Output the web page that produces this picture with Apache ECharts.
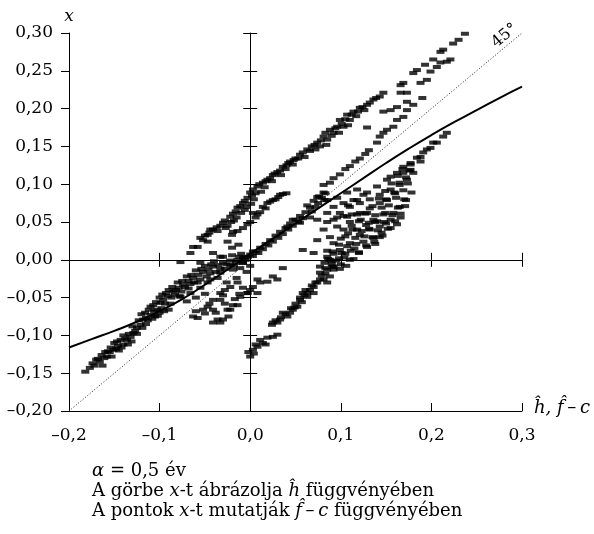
<!DOCTYPE html>
<html>
<head>
<meta charset="utf-8">
<script src="https://cdn.jsdelivr.net/npm/echarts@6/dist/echarts.min.js"></script>
<style>
  html, body { margin: 0; padding: 0; background: #fff; }
  #chart { width: 594px; height: 534px; }
</style>
</head>
<body>
<div id="chart"></div>
<script>
// tengelyek
const xTicks = [-0.2, -0.1, 0.0, 0.1, 0.2, 0.3];
const yTicks = [-0.20, -0.15, -0.10, -0.05, 0.00, 0.05, 0.10, 0.15, 0.20, 0.25, 0.30];

// a görbe: x a h^ függvényében
const curveH = [-0.200, -0.175, -0.150, -0.125, -0.100, -0.075, -0.050, -0.025, 0.000, 0.025, 0.050, 0.075, 0.100, 0.125, 0.150, 0.175, 0.200, 0.225, 0.250, 0.275, 0.300];
const curveX = [-0.116, -0.105, -0.094, -0.082, -0.068, -0.052, -0.033, -0.013, 0.008, 0.028, 0.048, 0.068, 0.088, 0.108, 0.128, 0.147, 0.165, 0.182, 0.198, 0.214, 0.229];

// 45 fokos egyenes
const diagonal = [-0.2, 0.3];

// pontok: x az f^-c függvényében
const bandLowerLeft = [
  [-0.182,-0.148],
  [-0.177,-0.143],[-0.172,-0.140],[-0.166,-0.135],[-0.161,-0.130],[-0.158,-0.128],[-0.155,-0.122],
  [-0.151,-0.119],[-0.146,-0.114],[-0.140,-0.112],[-0.143,-0.106],[-0.136,-0.106],[-0.132,-0.102],
  [-0.129,-0.097],[-0.125,-0.090],[-0.121,-0.086],[-0.118,-0.079],[-0.115,-0.077],[-0.110,-0.073],
  [-0.107,-0.060],[-0.103,-0.066],[-0.099,-0.057],[-0.096,-0.053],[-0.091,-0.048],[-0.085,-0.042],
  [-0.079,-0.037],[-0.074,-0.033],[-0.068,-0.028],[-0.063,-0.024],[-0.057,-0.020],[-0.052,-0.016],
  [-0.046,-0.013],[-0.041,-0.009],[-0.035,-0.007],[-0.030,-0.004],[-0.022,-0.001],[-0.014,0.000],
  [-0.008,0.003],[-0.003,0.004],[0.003,0.011],
  [-0.170,-0.132],[-0.160,-0.122],[-0.150,-0.110],[-0.140,-0.100],[-0.130,-0.088],[-0.120,-0.072],
  [-0.110,-0.062],[-0.100,-0.050],[-0.090,-0.040],[-0.080,-0.030],[-0.070,-0.022],[-0.060,-0.014],
  [-0.050,-0.008],[-0.040,-0.002],[-0.030,0.004],[-0.020,0.006],[-0.010,0.008],
  [-0.163,-0.140],[-0.153,-0.128],[-0.145,-0.120],[-0.135,-0.112],[-0.125,-0.098],[-0.115,-0.085],
  [-0.105,-0.075],[-0.095,-0.068],[-0.090,-0.066],[-0.100,-0.070],[-0.088,-0.058],[-0.078,-0.048],
  [-0.068,-0.038],[-0.058,-0.030],[-0.048,-0.022],[-0.038,-0.016],[-0.028,-0.012],[-0.018,-0.008],
  [-0.008,-0.004],
  [-0.174,-0.137],[-0.168,-0.131],[-0.164,-0.126],[-0.157,-0.121],[-0.154,-0.116],[-0.148,-0.118],
  [-0.147,-0.108],[-0.142,-0.116],[-0.138,-0.104],[-0.134,-0.098],[-0.131,-0.108],[-0.127,-0.094],
  [-0.123,-0.080],[-0.119,-0.090],[-0.116,-0.070],[-0.113,-0.080],[-0.112,-0.066],[-0.108,-0.078],
  [-0.106,-0.068],[-0.104,-0.056],[-0.102,-0.074],[-0.098,-0.064],[-0.097,-0.046],[-0.094,-0.058],
  [-0.093,-0.044],[-0.087,-0.050],[-0.086,-0.036],[-0.083,-0.046],[-0.082,-0.040],[-0.076,-0.042],
  [-0.075,-0.028],[-0.072,-0.036],[-0.066,-0.032],[-0.065,-0.020],[-0.062,-0.030],[-0.055,-0.026],
  [-0.054,-0.012],[-0.044,-0.018],[-0.043,-0.006],[-0.033,-0.012],[-0.026,-0.006],[-0.016,-0.004],
  [-0.012,0.004],[-0.005,0.000]
];
const bandNearDiagonalLeft = [
  [-0.077,-0.049],[-0.066,-0.044],[-0.055,-0.037],[-0.044,-0.026],[-0.033,-0.017],[-0.022,-0.007],
  [-0.047,-0.030],[-0.036,-0.024],[-0.019,-0.013],[-0.008,-0.004],[-0.011,-0.011],[-0.026,-0.030],
  [-0.015,-0.024],[-0.004,-0.016],[0.000,-0.008],
  [-0.063,-0.075],[-0.052,-0.066],[-0.041,-0.053],[-0.033,-0.044],[-0.022,-0.036],[-0.036,-0.079],
  [-0.025,-0.066],[-0.019,-0.060],[-0.047,-0.062],[-0.041,-0.066],[-0.058,-0.077],[-0.030,-0.079],
  [-0.033,-0.053],[-0.014,-0.060],[-0.022,-0.066],[-0.003,-0.044],[-0.008,-0.037],[-0.041,-0.083],
  [-0.033,-0.083],[-0.070,-0.055],[-0.060,-0.050],[-0.028,-0.040],[-0.014,-0.030],
  [-0.060,-0.068],[-0.050,-0.071],[-0.045,-0.058],[-0.038,-0.070],[-0.028,-0.058],[-0.030,-0.047],
  [-0.017,-0.052],[-0.012,-0.045],[-0.024,-0.075],[-0.050,-0.045]
];
const scatterLeftAbove = [
  [-0.077,-0.003],[-0.066,0.009],[-0.063,0.017],[-0.058,0.017],[-0.052,0.026],[-0.047,0.024],
  [-0.047,0.033],[-0.044,0.040],[-0.041,0.009],[-0.055,-0.004],[-0.025,0.024],[-0.019,0.037],
  [-0.033,0.004],[-0.020,0.016],[-0.013,0.020]
];
const bandUpper = [
  [-0.055,0.029],[-0.041,0.040],[-0.033,0.045],[-0.030,0.049],[-0.025,0.045],[-0.022,0.057],
  [-0.019,0.061],[-0.018,0.052],[-0.014,0.069],[-0.011,0.071],[-0.010,0.062],[-0.008,0.075],
  [-0.004,0.070],[-0.003,0.082],[0.000,0.089],[0.003,0.093],[0.004,0.080],[0.008,0.097],
  [0.012,0.090],[0.014,0.102],[0.019,0.106],[0.022,0.108],[0.025,0.112],[0.030,0.116],
  [0.036,0.123],[0.040,0.125],[0.044,0.130],[0.050,0.134],[0.055,0.139],[0.063,0.146],
  [0.068,0.150],[0.074,0.155],[0.078,0.158],[0.081,0.163],[0.085,0.159],[0.088,0.172],
  [0.092,0.168],[0.096,0.176],[0.099,0.185],[0.103,0.176],[0.107,0.192],[0.110,0.185],
  [0.114,0.196],[0.117,0.190],[0.121,0.201],[0.129,0.205],[0.136,0.212],[0.143,0.216],
  [0.147,0.221],[0.166,0.231],[0.169,0.234],[0.180,0.247],[0.184,0.251],[0.193,0.258],
  [0.202,0.265],[0.210,0.275],[0.213,0.278],[0.224,0.286],[0.230,0.291],[0.237,0.299],
  [-0.050,0.032],[-0.045,0.036],[-0.037,0.043],[-0.036,0.038],[-0.028,0.052],[-0.027,0.042],
  [-0.021,0.050],[-0.016,0.064],[-0.015,0.056],[-0.006,0.078],[-0.006,0.066],[0.002,0.085],
  [0.001,0.074],[0.006,0.088],[0.010,0.100],[0.016,0.096],[0.017,0.104],[0.024,0.104],
  [0.027,0.114],[0.033,0.118],[0.034,0.112],[0.039,0.120],[0.042,0.128],[0.047,0.126],
  [0.048,0.132],[0.053,0.134],[0.058,0.142],[0.060,0.136],[0.066,0.144],[0.071,0.152],
  [0.072,0.146],[0.077,0.150],[0.083,0.168],[0.084,0.152],[0.090,0.164],[0.094,0.174],
  [0.098,0.168],[0.101,0.180],[0.105,0.186],[0.108,0.178],[0.112,0.192],[0.119,0.196],
  [0.124,0.202],[0.126,0.198],[0.132,0.208],[0.139,0.214]
];
const bandUpperInner = [
  [-0.020,0.033],[-0.008,0.042],[0.000,0.050],[0.003,0.062],[0.011,0.063],[0.014,0.070],
  [0.019,0.075],[0.025,0.079],[0.031,0.083],[0.033,0.086],[0.040,0.088],
  [-0.014,0.038],[-0.003,0.047],[0.006,0.056],[0.008,0.060],[0.017,0.068],[0.022,0.077],
  [0.028,0.080],[0.036,0.087],
  [0.129,0.175],[0.140,0.155],[0.143,0.163],[0.147,0.168],[0.151,0.172],[0.158,0.176],
  [0.162,0.185],[0.169,0.189],[0.173,0.198],[0.147,0.196],[0.155,0.198],[0.162,0.202],
  [0.173,0.209],[0.180,0.205],[0.190,0.214],[0.173,0.221],[0.166,0.221],[0.188,0.234],
  [0.195,0.238],[0.199,0.249],[0.206,0.255],[0.210,0.261],[0.217,0.262],[0.221,0.265]
];
const bandMiddle = [
  [0.074,0.083],[0.081,0.089],[0.081,0.099],[0.088,0.102],[0.092,0.108],[0.099,0.113],
  [0.105,0.120],[0.110,0.124],[0.116,0.130],[0.121,0.134],[0.127,0.140],[0.131,0.145]
];
const bandAlongCurve = [
  [-0.006,0.003],[0.000,0.007],[0.006,0.011],[0.009,0.009],[0.011,0.016],[0.017,0.021],
  [0.020,0.019],[0.022,0.026],[0.028,0.032],[0.031,0.029],[0.033,0.037],[0.039,0.042],
  [0.042,0.040],[0.044,0.048],[0.050,0.053],[0.053,0.050],[0.055,0.058],[0.061,0.063],
  [0.063,0.072],[0.066,0.069],[0.070,0.078],[0.075,0.075],[0.076,0.084],[0.082,0.079],
  [0.083,0.088],
  [0.003,0.005],[0.014,0.014],[0.025,0.024],[0.036,0.034],[0.047,0.045],[0.058,0.055],
  [0.068,0.064],[0.079,0.082],[0.072,0.070]
];
const clusterRight = [
  [0.108,0.072],[0.118,0.079],[0.129,0.089],[0.140,0.097],[0.151,0.106],[0.162,0.115],
  [0.169,0.123],[0.177,0.128],[0.180,0.115],
  [0.099,0.062],[0.110,0.070],[0.121,0.075],[0.132,0.080],[0.143,0.086],[0.155,0.093],
  [0.165,0.102],[0.173,0.106],
  [0.092,0.053],[0.103,0.058],[0.112,0.060],[0.121,0.062],[0.132,0.068],[0.143,0.075],
  [0.150,0.080],[0.160,0.088],
  [0.110,0.050],[0.122,0.053],[0.136,0.053],[0.147,0.060],[0.158,0.062],[0.165,0.070],
  [0.170,0.080],
  [0.085,0.079],[0.096,0.082],[0.107,0.089],[0.118,0.093],[0.092,0.070],[0.103,0.075],
  [0.114,0.079],[0.125,0.086],[0.085,0.062],[0.074,0.053],[0.085,0.050],[0.096,0.056],
  [0.107,0.057],[0.118,0.060],[0.129,0.062],[0.047,0.053],[0.041,0.044],[0.055,0.049],
  [0.066,0.056],
  [0.077,-0.009],[0.085,0.004],[0.092,0.008],[0.099,0.013],[0.110,0.022],[0.121,0.033],
  [0.132,0.040],[0.143,0.044],[0.155,0.053],[0.166,0.056],
  [0.082,-0.004],[0.090,-0.002],[0.098,0.002],[0.105,0.008],[0.115,0.015],[0.125,0.024],
  [0.135,0.030],[0.145,0.036],[0.155,0.042],[0.162,0.047],
  [0.092,-0.013],[0.100,-0.006],[0.110,0.000],[0.120,0.009],[0.129,0.017],[0.137,0.024],
  [0.143,0.030],
  [0.085,0.012],[0.092,0.022],[0.100,0.028],[0.108,0.035],[0.118,0.040],[0.128,0.046],
  [0.138,0.050],[0.148,0.050],
  [0.081,0.040],[0.096,0.044],[0.088,0.030],[0.074,0.026],[0.058,0.013],[0.070,0.009],
  [0.103,0.040],[0.112,0.045]
];
// a sűrű sáv a jobb oldali felhőben
const clusterRightCore = [
  [0.083,-0.011],[0.091,-0.009],[0.099,-0.012],[0.106,-0.008],
  [0.086,0.001],[0.095,-0.001],[0.104,0.003],[0.114,0.001],
  [0.091,0.011],[0.101,0.009],[0.111,0.012],[0.120,0.010],
  [0.098,0.020],[0.107,0.018],[0.117,0.021],[0.128,0.019],[0.138,0.021],
  [0.105,0.031],[0.116,0.029],[0.126,0.031],[0.136,0.029],[0.146,0.032],
  [0.113,0.040],[0.123,0.038],[0.131,0.041],[0.141,0.039],[0.152,0.041],
  [0.120,0.051],[0.131,0.049],[0.140,0.051],[0.150,0.048],[0.160,0.051],
  [0.127,0.061],[0.138,0.059],[0.149,0.062],[0.157,0.059],[0.166,0.061],
  [0.135,0.071],[0.145,0.069],[0.153,0.072],[0.163,0.069],[0.171,0.071],
  [0.142,0.081],[0.151,0.079],[0.161,0.082],[0.172,0.079],
  [0.149,0.091],[0.159,0.089],[0.169,0.092],[0.178,0.089],
  [0.156,0.101],[0.165,0.099],[0.174,0.101],
  [0.163,0.111],[0.172,0.109],
  [0.168,0.120],[0.176,0.118]
];
const bandRightExt = [
  [0.155,0.110],[0.169,0.115],[0.177,0.119],[0.177,0.126],[0.184,0.135],[0.188,0.130],
  [0.188,0.136],[0.191,0.142],[0.195,0.146],[0.199,0.148],[0.202,0.155],[0.206,0.155],
  [0.213,0.163],[0.217,0.168]
];
const bandBelowAxis = [
  [0.088,0.000],[0.092,-0.009],[0.085,-0.013],[0.077,-0.017],[0.088,-0.022],[0.077,-0.026],
  [0.081,-0.026],[0.074,-0.030],[0.085,-0.030],[0.070,-0.036],[0.066,-0.040],[0.063,-0.044],
  [0.058,-0.044],[0.070,-0.044],[0.063,-0.049],[0.055,-0.050],[0.055,-0.053],[0.052,-0.062],
  [0.047,-0.066],[0.044,-0.070],[0.036,-0.070],[0.041,-0.075],[0.033,-0.079],[0.030,-0.083],
  [0.025,-0.083],[0.024,-0.086],
  [0.090,-0.006],[0.083,-0.018],[0.079,-0.021],[0.072,-0.030],[0.068,-0.034],[0.061,-0.040],
  [0.060,-0.047],[0.057,-0.056],[0.050,-0.058],[0.049,-0.063],[0.045,-0.064],[0.039,-0.072],
  [0.034,-0.076],[0.028,-0.080],
  [0.000,-0.040],[0.011,-0.030],[0.019,-0.029],[0.025,-0.022],[0.036,-0.011],[0.008,-0.044],
  [0.003,-0.036],[0.008,-0.026],[-0.003,-0.044],[-0.011,-0.049],[0.030,-0.026]
];
const clusterBottom = [
  [0.000,-0.128],[0.003,-0.119],[0.011,-0.106],[0.014,-0.110],[0.025,-0.102],[0.030,-0.099],
  [0.008,-0.115],[0.019,-0.103],[-0.002,-0.122],[0.006,-0.112],[0.004,-0.124],[0.017,-0.112]
];

const FONT = '"DejaVu Serif", "Liberation Serif", serif';
const dash = s => s.replace('-', '\u2013');
const fmt = (v, d) => dash((Math.abs(v) < 1e-9 ? 0 : v).toFixed(d).replace('.', ','));

const points = [].concat(bandLowerLeft, bandNearDiagonalLeft, scatterLeftAbove, bandUpper,
  bandUpperInner, bandMiddle, bandAlongCurve, clusterRight, clusterRightCore, bandRightExt,
  bandBelowAxis, clusterBottom);

const black = { color: '#000', width: 1 };
const xBase = {
  type: 'value',
  min: xTicks[0],
  max: xTicks[xTicks.length - 1],
  interval: 0.1,
  splitLine: { show: false }
};
const yBase = {
  type: 'value',
  min: yTicks[0],
  max: yTicks[yTicks.length - 1],
  interval: 0.05,
  splitLine: { show: false }
};
const italic = size => ({ fontStyle: 'italic', fontFamily: FONT, fontSize: size, color: '#000' });

const chart = echarts.init(document.getElementById('chart'), null, { renderer: 'canvas' });
const option = {
  animation: false,
  backgroundColor: '#fff',
  grid: { left: 69, right: 72, top: 33, bottom: 123 },
  title: {
    left: 92,
    top: 461,
    padding: 0,
    text: '{i|\u03b1} = 0,5 év\nA görbe {i|x}-t ábrázolja {i|ĥ} függvényében\nA pontok {i|x}-t mutatják {i|f\u0302}\u2009\u2013\u2009{i|c} függvényében',
    textStyle: {
      fontFamily: FONT,
      fontSize: 18,
      fontWeight: 'normal',
      color: '#000',
      lineHeight: 20,
      rich: { i: Object.assign({ lineHeight: 20 }, italic(18)) }
    }
  },
  xAxis: [
    Object.assign({}, xBase, {
      position: 'bottom',
      axisLine: { onZero: false, lineStyle: black },
      axisTick: { inside: true, length: 8, lineStyle: black },
      axisLabel: { margin: 16, fontFamily: FONT, fontSize: 17, color: '#000', formatter: v => fmt(v, 1) },
      name: '{i|ĥ, f\u0302}\u2009\u2013\u2009{i|c}',
      nameLocation: 'end',
      nameGap: 12,
      nameTextStyle: { fontFamily: FONT, fontSize: 18, color: '#000', padding: [0, 0, 6, 0], rich: { i: italic(18) } }
    }),
    Object.assign({}, xBase, {
      position: 'bottom',
      axisLine: { onZero: true, onZeroAxisIndex: 0, lineStyle: black },
      axisTick: { inside: true, length: 7, lineStyle: black },
      axisLabel: { show: false }
    }),
    Object.assign({}, xBase, {
      position: 'bottom',
      axisLine: { show: false, onZero: true, onZeroAxisIndex: 0 },
      axisTick: { inside: false, length: 7, lineStyle: black },
      axisLabel: { show: false }
    })
  ],
  yAxis: [
    Object.assign({}, yBase, {
      position: 'left',
      axisLine: { onZero: false, lineStyle: black },
      axisTick: { inside: false, length: 8, lineStyle: black },
      axisLabel: { margin: 16, fontFamily: FONT, fontSize: 17, color: '#000', formatter: v => fmt(v, 2) },
      name: 'x',
      nameLocation: 'end',
      nameGap: 8,
      nameTextStyle: italic(17)
    }),
    Object.assign({}, yBase, {
      position: 'left',
      axisLine: { onZero: true, onZeroAxisIndex: 0, lineStyle: black },
      axisTick: { inside: true, length: 7, lineStyle: black },
      axisLabel: { show: false }
    }),
    Object.assign({}, yBase, {
      position: 'left',
      axisLine: { show: false, onZero: true, onZeroAxisIndex: 0 },
      axisTick: { inside: false, length: 7, lineStyle: black },
      axisLabel: { show: false }
    })
  ],
  series: [
    {
      name: '45°',
      type: 'line',
      xAxisIndex: 0,
      yAxisIndex: 0,
      symbol: 'circle',
      symbolSize: 1,
      itemStyle: { color: 'rgba(0,0,0,0)' },
      lineStyle: { color: '#222', width: 1, type: [1, 2] },
      data: diagonal.map((v, i) => i === diagonal.length - 1
        ? { value: [v, v], label: { show: true, formatter: '45°', position: 'inside', offset: [-15, -9], rotate: 40,
            fontFamily: FONT, fontSize: 16, color: '#000' } }
        : [v, v]),
      z: 1
    },
    {
      name: 'pontok',
      type: 'scatter',
      xAxisIndex: 0,
      yAxisIndex: 0,
      symbol: 'rect',
      symbolSize: [8, 4],
      itemStyle: { color: '#000' },
      data: points,
      z: 2
    },
    {
      name: 'görbe',
      type: 'line',
      xAxisIndex: 0,
      yAxisIndex: 0,
      smooth: true,
      symbol: 'none',
      lineStyle: { color: '#000', width: 2 },
      data: curveH.map((h, i) => [h, curveX[i]]),
      z: 3
    }
  ]
};
chart.setOption(option);
</script>
</body>
</html>
